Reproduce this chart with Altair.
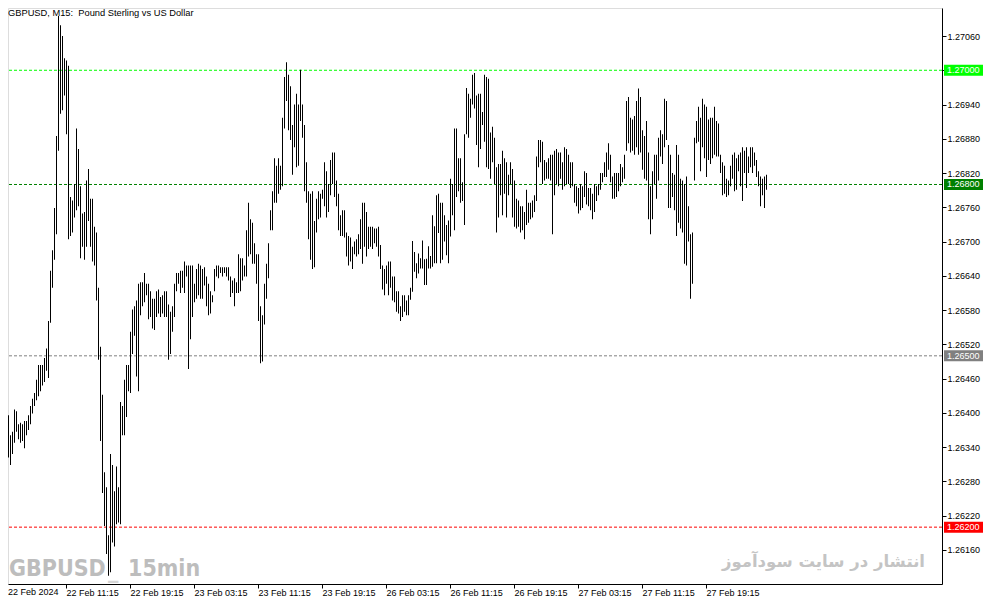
import altair as alt
import pandas as pd

# ---- data (GBPUSD M15 bars: high / low) ----
bar_high = [
    1.26432,1.26416,1.26396,1.26361,1.26367,1.26406,1.26403,1.26380,1.26383,1.26380,
    1.26386,1.26386,1.26396,1.26412,1.26425,1.26435,1.26458,1.26484,1.26484,1.26484,
    1.26496,1.26513,1.26561,1.26649,1.26685,1.26759,1.26885,1.27095,1.27079,1.27060,
    1.27021,1.27017,1.27008,1.26778,1.26772,1.26801,1.26898,1.26862,1.26797,1.26749,
    1.26752,1.26807,1.26827,1.26775,1.26775,1.26726,1.26716,1.26619,1.26516,1.26432,
    1.26296,1.26270,1.26186,1.26328,1.26309,1.26263,1.26306,1.26270,1.26419,1.26412,
    1.26458,1.26484,1.26484,1.26542,1.26581,1.26587,1.26597,1.26626,1.26629,1.26629,
    1.26645,1.26626,1.26626,1.26613,1.26600,1.26600,1.26613,1.26616,1.26603,1.26606,
    1.26613,1.26613,1.26590,1.26577,1.26587,1.26626,1.26645,1.26645,1.26649,1.26649,
    1.26665,1.26658,1.26658,1.26658,1.26658,1.26626,1.26652,1.26661,1.26658,1.26652,
    1.26655,1.26639,1.26626,1.26613,1.26606,1.26652,1.26658,1.26658,1.26655,1.26655,
    1.26655,1.26655,1.26655,1.26639,1.26632,1.26636,1.26629,1.26678,1.26671,1.26671,
    1.26658,1.26720,1.26768,1.26739,1.26733,1.26697,1.26678,1.26678,1.26587,1.26571,
    1.26626,1.26661,1.26697,1.26755,1.26788,1.26846,1.26833,1.26846,1.26833,1.26917,
    1.26988,1.27014,1.26992,1.26972,1.26904,1.26940,1.26959,1.26940,1.27001,1.26940,
    1.26904,1.26839,1.26788,1.26784,1.26788,1.26736,1.26775,1.26788,1.26784,1.26791,
    1.26839,1.26823,1.26801,1.26843,1.26856,1.26856,1.26807,1.26784,1.26746,1.26755,
    1.26755,1.26716,1.26710,1.26707,1.26691,1.26700,1.26704,1.26713,1.26739,1.26768,
    1.26768,1.26752,1.26726,1.26726,1.26726,1.26723,1.26723,1.26726,1.26694,1.26658,
    1.26652,1.26658,1.26665,1.26665,1.26639,1.26639,1.26613,1.26613,1.26587,1.26606,
    1.26606,1.26597,1.26606,1.26619,1.26701,1.26682,1.26662,1.26679,1.26671,1.26702,
    1.26669,1.26670,1.26692,1.26675,1.26746,1.26727,1.26781,1.26784,1.26768,1.26768,
    1.26746,1.26729,1.26737,1.26810,1.26801,1.26898,1.26898,1.26846,1.26846,1.26804,
    1.26888,1.26969,1.26959,1.26950,1.26992,1.26995,1.26956,1.26959,1.26959,1.26927,
    1.26992,1.26988,1.26985,1.26891,1.26901,1.26882,1.26830,1.26836,1.26836,1.26859,
    1.26846,1.26839,1.26817,1.26839,1.26827,1.26807,1.26775,1.26772,1.26762,1.26762,
    1.26752,1.26791,1.26768,1.26768,1.26772,1.26781,1.26849,1.26878,1.26878,1.26875,
    1.26843,1.26839,1.26846,1.26852,1.26852,1.26859,1.26862,1.26856,1.26856,1.26839,
    1.26865,1.26862,1.26852,1.26839,1.26839,1.26801,1.26797,1.26794,1.26801,1.26797,
    1.26823,1.26820,1.26794,1.26794,1.26784,1.26801,1.26797,1.26801,1.26820,1.26820,
    1.26839,1.26856,1.26872,1.26852,1.26814,1.26820,1.26820,1.26820,1.26836,1.26830,
    1.26852,1.26946,1.26953,1.26917,1.26914,1.26920,1.26946,1.26968,1.26953,1.26895,
    1.26885,1.26911,1.26856,1.26797,1.26823,1.26852,1.26852,1.26882,1.26895,1.26888,
    1.26950,1.26946,1.26869,1.26852,1.26820,1.26817,1.26869,1.26852,1.26810,1.26807,
    1.26801,1.26814,1.26762,1.26713,1.26716,1.26882,1.26911,1.26936,1.26917,1.26950,
    1.26940,1.26936,1.26914,1.26917,1.26917,1.26936,1.26911,1.26907,1.26852,1.26839,
    1.26833,1.26810,1.26807,1.26833,1.26852,1.26856,1.26846,1.26852,1.26856,1.26865,
    1.26859,1.26865,1.26849,1.26865,1.26865,1.26856,1.26843,1.26823,1.26814,1.26810,
    1.26814,1.26817,
]
bar_low = [
    1.26374,1.26386,1.26322,1.26309,1.26328,1.26348,1.26367,1.26354,1.26348,1.26351,
    1.26338,1.26361,1.26370,1.26380,1.26399,1.26412,1.26422,1.26429,1.26438,1.26448,
    1.26454,1.26474,1.26461,1.26558,1.26619,1.26668,1.26713,1.26859,1.26924,1.26930,
    1.26956,1.26888,1.26704,1.26710,1.26716,1.26742,1.26755,1.26762,1.26671,1.26691,
    1.26668,1.26691,1.26736,1.26691,1.26665,1.26658,1.26597,1.26493,1.26351,1.26260,
    1.26202,1.26153,1.26115,1.26121,1.26173,1.26166,1.26205,1.26208,1.26205,1.26361,
    1.26361,1.26393,1.26438,1.26435,1.26503,1.26535,1.26464,1.26438,1.26571,1.26587,
    1.26594,1.26606,1.26564,1.26568,1.26548,1.26545,1.26568,1.26574,1.26568,1.26574,
    1.26568,1.26568,1.26493,1.26503,1.26542,1.26568,1.26613,1.26626,1.26610,1.26619,
    1.26610,1.26639,1.26477,1.26529,1.26568,1.26594,1.26600,1.26606,1.26600,1.26600,
    1.26623,1.26587,1.26571,1.26574,1.26594,1.26613,1.26639,1.26636,1.26645,1.26639,
    1.26645,1.26639,1.26632,1.26603,1.26610,1.26587,1.26610,1.26610,1.26613,1.26632,
    1.26639,1.26639,1.26674,1.26678,1.26661,1.26661,1.26626,1.26561,1.26487,1.26490,
    1.26555,1.26600,1.26636,1.26720,1.26720,1.26768,1.26768,1.26784,1.26791,1.26797,
    1.26898,1.26946,1.26895,1.26878,1.26817,1.26865,1.26830,1.26833,1.26911,1.26882,
    1.26788,1.26768,1.26704,1.26668,1.26652,1.26655,1.26716,1.26739,1.26742,1.26775,
    1.26762,1.26742,1.26752,1.26781,1.26801,1.26778,1.26762,1.26720,1.26710,1.26710,
    1.26707,1.26674,1.26658,1.26665,1.26652,1.26678,1.26674,1.26678,1.26687,1.26661,
    1.26691,1.26674,1.26687,1.26691,1.26687,1.26697,1.26691,1.26674,1.26652,1.26616,
    1.26606,1.26626,1.26606,1.26619,1.26597,1.26594,1.26577,1.26574,1.26561,1.26568,
    1.26577,1.26571,1.26571,1.26598,1.26612,1.26647,1.26636,1.26644,1.26653,1.26653,
    1.26624,1.26624,1.26653,1.26653,1.26656,1.26662,1.26662,1.26715,1.26662,1.26668,
    1.26700,1.26676,1.26662,1.26709,1.26746,1.26720,1.26778,1.26788,1.26768,1.26771,
    1.26729,1.26888,1.26882,1.26917,1.26940,1.26933,1.26869,1.26830,1.26862,1.26904,
    1.26875,1.26830,1.26827,1.26810,1.26839,1.26801,1.26716,1.26742,1.26781,1.26746,
    1.26784,1.26742,1.26781,1.26801,1.26742,1.26726,1.26723,1.26726,1.26716,1.26720,
    1.26704,1.26729,1.26733,1.26739,1.26742,1.26752,1.26771,1.26830,1.26839,1.26801,
    1.26807,1.26810,1.26810,1.26807,1.26713,1.26781,1.26801,1.26797,1.26810,1.26791,
    1.26797,1.26801,1.26801,1.26794,1.26797,1.26768,1.26762,1.26749,1.26755,1.26759,
    1.26778,1.26765,1.26762,1.26755,1.26739,1.26752,1.26771,1.26781,1.26791,1.26804,
    1.26813,1.26813,1.26826,1.26804,1.26775,1.26775,1.26778,1.26788,1.26797,1.26804,
    1.26810,1.26859,1.26872,1.26856,1.26859,1.26852,1.26865,1.26852,1.26856,1.26826,
    1.26810,1.26807,1.26739,1.26713,1.26739,1.26801,1.26775,1.26807,1.26849,1.26836,
    1.26865,1.26878,1.26759,1.26759,1.26778,1.26755,1.26710,1.26733,1.26723,1.26716,
    1.26661,1.26658,1.26700,1.26600,1.26626,1.26807,1.26872,1.26875,1.26823,1.26865,
    1.26846,1.26813,1.26843,1.26836,1.26846,1.26852,1.26849,1.26849,1.26820,1.26781,
    1.26784,1.26778,1.26781,1.26797,1.26810,1.26788,1.26791,1.26823,1.26797,1.26771,
    1.26820,1.26794,1.26820,1.26830,1.26820,1.26833,1.26813,1.26797,1.26762,1.26781,
    1.26759,1.26791,
]

# time axis: bar index of each labelled tick and its text
x_tick_bars = [31, 63, 95, 127, 159, 191, 223, 255, 287, 319, 351]
x_tick_labels = ["22 Feb 11:15", "22 Feb 19:15", "23 Feb 03:15", "23 Feb 11:15",
                 "23 Feb 19:15", "26 Feb 03:15", "26 Feb 11:15", "26 Feb 19:15",
                 "27 Feb 03:15", "27 Feb 11:15", "27 Feb 19:15"]
first_date_label = "22 Feb 2024"

price_ticks = [1.26160, 1.26220, 1.26280, 1.26340, 1.26400, 1.26460, 1.26520, 1.26580,
               1.26640, 1.26700, 1.26760, 1.26820, 1.26880, 1.26940, 1.27000, 1.27060]

level_prices = [1.27000, 1.26800, 1.26500, 1.26200]
level_labels = ["1.27000", "1.26800", "1.26500", "1.26200"]
level_colors = ["#00FF00", "#008000", "#808080", "#FF0000"]

title_text = "GBPUSD, M15: \u00a0Pound Sterling vs US Dollar"
wm_left = "GBPUSD"
wm_mid = "_"
wm_right = "15min"
wm_fa = "انتشار در سایت سودآموز"

# ---- layout ----
W, H = 934, 576
FONT = "Liberation Sans"
FS = 9

bars = pd.DataFrame({"bar": list(range(len(bar_high))), "high": bar_high, "low": bar_low})
levels = pd.DataFrame({"price": level_prices, "label": level_labels, "color": level_colors})

xscale = alt.Scale(domain=[2, 469], nice=False, zero=False)
yscale = alt.Scale(domain=[1.2610046, 1.2710903], nice=False, zero=False)

label_expr = "[" + ",".join("'%s'" % s for s in x_tick_labels) + "][(datum.value + 1) / 32 - 1]"

x_axis = alt.Axis(values=x_tick_bars, labelExpr=label_expr, title=None, grid=False,
                  tickSize=4, tickColor="black", domainColor="black", labelColor="black",
                  labelAlign="left", labelBaseline="top", labelPadding=0,
                  labelFont=FONT, labelFontSize=FS, labelOverlap=False, labelFlush=False,
                  labelBound=False)
y_axis = alt.Axis(orient="right", values=price_ticks, format=".5f", title=None, grid=False,
                  tickSize=4, tickColor="black", domainColor="black", labelColor="black",
                  labelAlign="left", labelBaseline="middle", labelPadding=1,
                  labelFont=FONT, labelFontSize=FS, labelOverlap=False, labelFlush=False,
                  labelBound=False)

# each bar: a 1px-wide filled column from low to high
bar_layer = alt.Chart(bars).transform_calculate(
    bar_end="datum.bar + 0.5"
).mark_rect(color="black", strokeWidth=0).encode(
    x=alt.X("bar:Q", scale=xscale, axis=x_axis),
    x2="bar_end:Q",
    y=alt.Y("high:Q", scale=yscale, axis=y_axis),
    y2="low:Q",
)

level_lines = alt.Chart(levels).mark_rule(strokeDash=[3, 2], strokeWidth=1).encode(
    y=alt.Y("price:Q", scale=yscale, axis=y_axis),
    color=alt.Color("color:N", scale=None),
)
level_boxes = alt.Chart(levels).mark_rule(strokeWidth=11).encode(
    y=alt.Y("price:Q", scale=yscale, axis=y_axis),
    x=alt.value(W + 2), x2=alt.value(W + 41),
    color=alt.Color("color:N", scale=None),
)
level_text = alt.Chart(levels).mark_text(align="left", baseline="middle", font=FONT,
                                         fontSize=FS, color="white").encode(
    y=alt.Y("price:Q", scale=yscale, axis=y_axis),
    x=alt.value(W + 5),
    text="label:N",
)

def label(text, x, y, **kw):
    return alt.Chart(pd.DataFrame({"t": [text]})).mark_text(**kw).encode(
        x=alt.value(x), y=alt.value(y), text="t:N")

title_layer = label(title_text, 0, 1, align="left", baseline="top", font=FONT,
                    fontSize=9.3, color="black")
first_label = label(first_date_label, 0, H + 4, align="left", baseline="top", font=FONT,
                    fontSize=FS, color="black")
wm_font = "Liberation Sans Narrow, DejaVu Sans Condensed, Liberation Sans"
wm1 = label(wm_left, 1, 568, align="left", baseline="alphabetic", font=wm_font,
            fontSize=23, fontWeight="bold", color="#BDBDBD")
wm2 = label(wm_mid, 100, 570, align="left", baseline="alphabetic", font=wm_font,
            fontSize=23, fontWeight="bold", color="#D6D6D6")
wm3 = label(wm_right, 120, 568, align="left", baseline="alphabetic", font=wm_font,
            fontSize=23, fontWeight="bold", color="#BDBDBD")
wm4 = label(wm_fa, 917, 554, align="right", baseline="middle", font="DejaVu Sans",
            fontSize=16.5, fontWeight="bold", color="#C4C4C4")

chart = alt.layer(
    wm1, wm2, wm3, wm4, level_lines, bar_layer, level_boxes, level_text,
    title_layer, first_label,
).properties(
    width=W, height=H,
    autosize=alt.AutoSizeParams(type="none"),
    padding={"left": 0, "top": 0, "right": 44, "bottom": 13},
).configure_view(
    stroke="black", strokeWidth=1,
).configure(
    background="white",
)

chart.save("out.html", embed_options={"renderer": "svg", "actions": False})
